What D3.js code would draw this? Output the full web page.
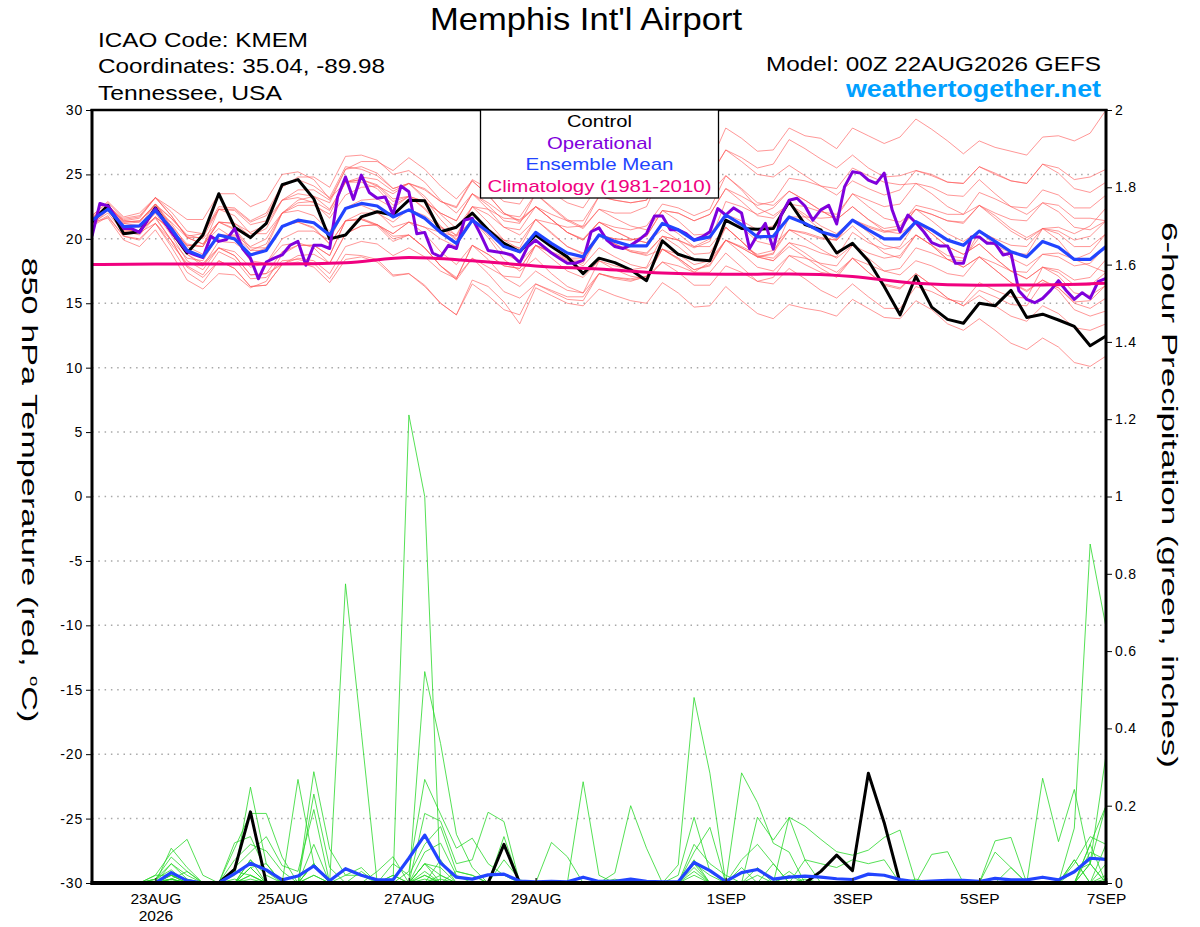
<!DOCTYPE html>
<html>
<head>
<meta charset="utf-8">
<script src="https://cdn.jsdelivr.net/npm/d3@7"></script>
<style>
body { margin: 0; background: #fff; }
svg { display: block; font-family: "Liberation Sans", Arial, Helvetica, sans-serif; }
</style>
</head>
<body>
<div id="svg"></div>
<script>
///////////////Data

// forecast run start, 6-hourly ensemble steps, 3-hourly operational steps
var runStart = "2026-08-22T00:00:00Z";

var tempTicks = [-30, -25, -20, -15, -10, -5, 0, 5, 10, 15, 20, 25, 30];
var precipTicks = [0, 0.2, 0.4, 0.6, 0.8, 1, 1.2, 1.4, 1.6, 1.8, 2];
var dateTicks = ["2026-08-23", "2026-08-25", "2026-08-27", "2026-08-29", "2026-09-01", "2026-09-03", "2026-09-05", "2026-09-07"];
var dateTickLabels = ["23AUG", "25AUG", "27AUG", "29AUG", "1SEP", "3SEP", "5SEP", "7SEP"];
var yearLabel = "2026";

var legendNames = ["Control", "Operational", "Ensemble Mean", "Climatology (1981-2010)"];

// 850 hPa temperature, control run (6-hourly, 65 steps)
var controlTemp = [21.3, 22.6, 20.4, 20.55, 22.4, 20.6, 18.9, 20.3, 23.5, 20.9, 20.1, 21.2, 24.2, 24.6, 23.1, 20.0, 20.3, 21.7, 22.1, 21.85,
    23.0, 22.95, 20.55, 20.9, 22.0, 20.7, 19.65, 19.0, 20.3, 19.4, 18.6, 17.3, 18.5, 18.15, 17.6, 16.75, 19.85, 18.8, 18.4, 18.3,
    21.45, 20.8, 20.75, 20.8, 22.9, 21.1, 20.7, 18.9, 19.65, 18.3, 16.3, 14.1, 17.1, 14.7, 13.75, 13.45, 15.0, 14.8, 16.0, 13.9,
    14.15, 13.7, 13.2, 11.7, 12.45];

// ensemble mean (6-hourly)
var meanTemp = [21.45, 22.3, 20.95, 21.0, 22.2, 20.8, 19.1, 18.6, 20.3, 20.0, 18.75, 19.1, 20.95, 21.45, 21.25, 20.3, 22.35, 22.75, 22.55, 21.7,
    22.25, 21.6, 20.5, 19.65, 21.45, 20.55, 19.4, 19.0, 20.5, 19.65, 18.9, 18.6, 20.3, 19.8, 19.45, 19.45, 21.2, 20.7, 19.9, 20.15,
    21.85, 21.1, 20.15, 20.2, 21.7, 21.2, 20.55, 20.2, 21.45, 20.7, 20.0, 20.0, 21.33, 20.7, 19.9, 19.5, 20.6, 19.8, 19.0, 18.6,
    19.8, 19.35, 18.4, 18.4, 19.4];

// operational run (3-hourly, 129 steps)
var operTemp = [20.2, 22.75, 22.55, 21.7, 20.8, 20.8, 20.5, 21.45, 22.35, 21.45, 20.55, 19.8, 19.0, 18.75, 18.55, 20.2, 19.8, 19.95, 20.8, 19.25,
    18.5, 16.9, 18.2, 18.5, 18.75, 19.5, 19.8, 17.95, 19.5, 19.5, 19.25, 23.25, 24.8, 23.06, 24.95, 23.6, 23.15, 23.25, 21.9, 24.1,
    23.65, 20.4, 20.5, 18.9, 18.6, 19.5, 19.25, 21.45, 21.6, 20.4, 19.1, 19.0, 18.9, 18.75, 18.15, 19.4, 19.9, 19.4, 18.9, 18.5,
    18.1, 18.1, 18.35, 20.55, 20.85, 19.9, 19.4, 19.25, 19.5, 19.9, 20.4, 21.77, 21.77, 20.7, 20.7, 20.4, 19.9, 20.15, 20.55, 22.35,
    21.85, 22.4, 22.0, 19.25, 20.3, 21.2, 19.2, 21.85, 23.0, 23.15, 22.55, 21.45, 22.25, 22.6, 21.15, 24.05, 25.2, 25.1, 24.55, 24.3,
    25.1, 22.25, 20.55, 21.85, 21.25, 20.55, 19.7, 19.45, 19.45, 18.1, 18.1, 20.15, 20.15, 19.65, 19.65, 18.75, 18.9, 15.97, 15.3, 15.04,
    15.38, 16.0, 16.75, 15.97, 15.3, 15.82, 15.38, 16.67, 16.93];

// climatology (daily at 00Z, 17 days)
var climoTemp = [18.0, 18.05, 18.05, 18.05, 18.15, 18.55, 18.3, 17.9, 17.65, 17.35, 17.25, 17.27, 17.08, 16.55, 16.4, 16.42, 16.55];

// perturbed members, 850 hPa temperature (6-hourly)
var redMember01 = [21.5, 22.5, 21.3, 21.4, 22.6, 21.6, 20.2, 20.4, 22.5, 22.4, 21.4, 22.0, 24.2, 24.6, 24.1, 23.2, 25.6, 25.4, 24.9, 23.9, 24.3, 23.9, 22.9, 22.5, 24.6, 23.9, 22.9, 22.7, 24.6, 23.6, 22.8, 22.4, 24.2, 24.0, 23.8, 24.2, 26.3, 25.9, 25.3, 25.8, 28.6, 27.8, 26.8, 26.9, 28.6, 28.0, 27.8, 27.0, 28.6, 28.0, 27.4, 27.9, 29.3, 28.5, 27.6, 26.6, 27.6, 27.1, 26.8, 26.5, 27.9, 28.0, 27.6, 28.2, 30.0];
var redMember02 = [21.2, 22.0, 20.5, 20.6, 21.6, 19.9, 17.9, 17.2, 19.0, 18.4, 16.9, 17.0, 18.3, 18.4, 18.1, 16.9, 18.8, 18.7, 18.4, 17.2, 17.3, 16.4, 15.0, 14.1, 16.8, 16.3, 15.1, 13.4, 16.2, 15.6, 15.0, 14.8, 16.1, 15.6, 15.2, 15.0, 16.6, 15.8, 14.7, 14.8, 16.3, 15.2, 14.2, 13.8, 14.9, 14.6, 14.4, 14.0, 15.3, 14.6, 13.9, 13.8, 15.2, 14.5, 13.4, 12.9, 13.8, 12.9, 11.9, 11.4, 12.3, 11.6, 10.4, 10.1, 10.9];
var redMember03 = [21.8, 22.9, 21.7, 22.0, 23.2, 22.4, 21.5, 21.5, 23.5, 23.5, 22.5, 23.0, 25.0, 25.2, 24.6, 23.1, 24.4, 24.4, 23.9, 22.6, 23.3, 22.4, 21.0, 20.0, 21.5, 20.7, 19.6, 19.3, 21.5, 21.2, 20.9, 21.0, 23.3, 23.0, 22.8, 23.0, 25.2, 25.0, 24.3, 24.8, 26.9, 26.0, 25.0, 24.8, 25.7, 24.9, 24.1, 23.4, 24.5, 23.9, 23.4, 23.8, 25.3, 25.0, 24.4, 24.3, 25.6, 25.0, 24.5, 24.3, 25.8, 25.1, 23.9, 23.6, 24.4];
var redMember04 = [21.1, 21.8, 20.2, 20.0, 21.2, 19.4, 17.4, 16.6, 18.3, 17.7, 16.3, 16.4, 18.0, 18.2, 17.8, 16.6, 18.4, 18.6, 18.2, 17.1, 17.3, 16.3, 15.0, 14.1, 16.5, 15.6, 14.5, 14.1, 16.5, 16.0, 15.5, 15.5, 17.3, 17.0, 16.9, 17.1, 19.2, 18.8, 18.0, 18.3, 20.9, 19.8, 18.6, 18.3, 19.4, 18.6, 17.7, 17.0, 18.5, 17.4, 16.5, 16.2, 17.3, 16.4, 15.4, 14.8, 16.0, 15.5, 14.9, 14.8, 16.6, 16.2, 15.0, 14.6, 15.4];
var redMember05 = [21.6, 22.6, 21.3, 21.4, 22.7, 21.6, 20.3, 20.0, 21.3, 21.2, 20.5, 21.1, 23.0, 23.8, 23.8, 23.0, 25.4, 25.6, 25.1, 23.9, 24.3, 23.3, 21.9, 20.8, 22.5, 21.3, 19.9, 19.2, 20.5, 19.5, 18.5, 17.9, 19.3, 18.6, 18.0, 17.7, 19.2, 18.5, 17.6, 18.0, 19.9, 19.3, 18.6, 18.8, 21.7, 21.7, 21.6, 21.7, 23.5, 23.0, 22.5, 22.7, 24.3, 24.0, 23.4, 23.3, 24.6, 23.5, 22.5, 21.9, 22.8, 22.1, 20.9, 20.7, 21.4];
var redMember06 = [21.2, 22.3, 20.8, 20.6, 22.0, 20.3, 18.3, 17.6, 19.3, 19.0, 17.8, 18.1, 20.0, 20.6, 20.6, 19.9, 22.4, 23.0, 23.1, 22.4, 23.3, 22.9, 22.0, 21.4, 23.5, 22.8, 21.9, 21.7, 23.5, 22.4, 21.4, 20.8, 22.3, 21.6, 21.0, 20.7, 22.2, 21.4, 20.3, 20.4, 21.9, 20.9, 19.8, 19.5, 20.7, 20.0, 19.2, 18.5, 19.5, 18.5, 17.5, 17.2, 18.3, 17.9, 17.3, 17.1, 18.6, 18.1, 17.5, 17.4, 18.8, 18.6, 17.9, 18.1, 19.4];
var redMember07 = [21.8, 22.8, 21.6, 21.8, 23.2, 22.1, 20.6, 20.4, 22.3, 21.8, 20.4, 20.4, 22.0, 22.2, 21.8, 20.6, 22.4, 22.6, 22.1, 20.9, 21.3, 20.4, 19.0, 18.0, 19.5, 18.4, 17.0, 16.3, 17.5, 16.7, 16.0, 15.8, 18.3, 17.9, 17.6, 17.8, 20.2, 19.9, 19.3, 19.8, 22.9, 22.5, 21.9, 22.4, 23.7, 23.0, 22.2, 21.5, 22.5, 21.5, 20.6, 20.4, 21.3, 20.4, 19.4, 18.8, 19.6, 18.5, 17.5, 16.9, 17.8, 17.1, 15.8, 15.6, 16.4];
var redMember08 = [21.0, 21.7, 20.2, 19.9, 21.2, 19.9, 18.5, 18.3, 20.3, 20.3, 19.4, 20.0, 22.0, 22.8, 22.9, 22.2, 24.4, 24.6, 24.2, 23.1, 23.3, 22.3, 20.9, 19.9, 21.5, 20.3, 18.9, 18.2, 19.5, 18.9, 18.4, 18.3, 20.3, 20.0, 19.9, 20.2, 22.2, 22.0, 21.4, 21.9, 23.9, 23.3, 22.6, 22.9, 24.7, 24.5, 24.1, 23.9, 25.5, 24.9, 24.4, 24.2, 24.3, 23.5, 22.5, 21.9, 22.6, 21.6, 20.6, 19.9, 20.8, 20.6, 19.9, 20.2, 21.4];
var redMember09 = [21.4, 22.4, 21.2, 21.3, 22.7, 21.0, 18.8, 17.9, 19.3, 18.7, 17.2, 17.3, 19.0, 19.5, 19.5, 18.7, 21.4, 22.0, 22.0, 21.3, 22.3, 21.8, 20.9, 20.3, 22.5, 21.9, 20.9, 20.7, 22.5, 21.5, 20.5, 20.0, 21.3, 20.6, 20.0, 19.7, 21.2, 20.4, 19.4, 19.4, 20.9, 19.8, 18.6, 18.3, 19.7, 18.9, 18.0, 17.4, 18.5, 17.4, 16.4, 16.1, 17.3, 16.4, 15.4, 14.8, 15.6, 14.8, 14.0, 13.6, 14.8, 14.2, 13.1, 12.9, 13.4];
var redMember10 = [21.5, 22.2, 20.7, 20.6, 21.7, 20.7, 19.5, 19.4, 22.3, 22.2, 21.1, 21.4, 23.0, 23.2, 22.8, 21.6, 23.4, 24.0, 24.1, 23.5, 24.3, 23.8, 22.9, 22.4, 24.5, 23.4, 22.0, 21.4, 22.5, 21.5, 20.5, 19.9, 21.3, 20.9, 20.7, 21.0, 22.7, 22.4, 21.8, 22.3, 24.9, 23.8, 22.4, 21.8, 22.7, 21.7, 20.7, 19.9, 21.0, 19.9, 18.9, 18.5, 20.3, 19.5, 18.7, 18.5, 20.1, 19.5, 18.9, 18.8, 20.8, 20.4, 19.4, 19.4, 20.4];
var redMember11 = [21.3, 21.6, 19.9, 19.4, 20.7, 18.9, 16.8, 16.1, 17.3, 17.2, 16.2, 16.7, 18.8, 19.5, 19.5, 18.7, 21.4, 21.5, 21.0, 19.8, 20.3, 19.3, 17.9, 16.8, 18.5, 17.3, 15.9, 15.4, 16.5, 15.9, 15.3, 15.2, 17.3, 17.0, 16.8, 17.0, 19.2, 18.4, 17.4, 17.4, 18.9, 17.8, 16.7, 16.5, 17.7, 16.9, 16.0, 15.4, 16.5, 15.5, 14.6, 14.6, 16.3, 15.9, 15.3, 15.1, 16.6, 16.0, 15.5, 15.4, 17.8, 17.6, 16.8, 17.0, 18.4];
var redMember12 = [21.7, 22.6, 21.4, 21.3, 22.7, 21.2, 19.4, 18.8, 20.3, 20.2, 19.1, 19.6, 22.0, 23.0, 23.3, 22.8, 25.4, 26.0, 26.0, 25.3, 26.3, 25.4, 24.1, 23.1, 24.5, 23.4, 22.0, 21.3, 22.5, 21.9, 21.4, 21.4, 23.3, 23.0, 22.8, 23.0, 25.2, 24.5, 23.4, 23.5, 24.9, 23.9, 22.8, 22.6, 23.7, 23.0, 22.2, 21.5, 22.5, 21.5, 20.8, 21.0, 22.6, 22.3, 21.9, 21.9, 23.6, 23.1, 22.5, 22.4, 23.8, 23.4, 22.4, 22.4, 23.4];
var redMember13 = [21.1, 22.2, 20.9, 21.0, 22.2, 21.0, 19.6, 19.4, 21.3, 20.7, 19.1, 19.1, 21.0, 21.3, 20.9, 19.6, 21.4, 21.5, 21.1, 20.0, 20.3, 19.3, 17.9, 16.9, 19.5, 18.8, 17.9, 17.7, 19.5, 19.0, 18.5, 18.5, 20.3, 20.0, 19.9, 20.2, 22.2, 22.0, 21.4, 21.9, 23.9, 22.9, 21.8, 21.6, 22.7, 21.9, 21.0, 20.4, 21.5, 20.5, 19.5, 19.2, 20.3, 19.5, 18.4, 17.8, 18.6, 17.6, 16.6, 16.0, 16.8, 16.2, 15.1, 15.2, 16.4];
var redMember14 = [21.5, 22.5, 21.4, 21.6, 23.2, 21.8, 20.1, 19.6, 21.3, 21.2, 20.2, 20.8, 23.0, 23.5, 23.3, 22.3, 24.4, 24.8, 24.6, 23.7, 24.3, 23.1, 21.5, 20.2, 21.5, 20.1, 18.4, 17.5, 18.5, 17.3, 16.3, 15.8, 17.3, 16.9, 16.7, 17.1, 18.2, 17.9, 17.4, 18.2, 19.9, 19.3, 18.6, 18.9, 20.7, 20.5, 20.1, 19.9, 21.5, 20.9, 20.5, 20.7, 22.3, 21.9, 21.4, 21.2, 22.6, 21.8, 20.8, 20.1, 20.8, 19.9, 18.4, 17.9, 17.4];
var redMember15 = [21.4, 22.2, 20.6, 20.3, 21.7, 19.9, 17.8, 17.0, 18.3, 17.7, 16.3, 16.4, 18.0, 18.7, 18.8, 18.1, 20.4, 21.0, 21.1, 20.4, 21.3, 20.9, 20.0, 19.4, 21.5, 20.8, 19.9, 19.7, 21.5, 20.5, 19.4, 18.9, 20.3, 19.6, 19.1, 18.9, 20.2, 19.9, 19.4, 20.0, 21.9, 21.4, 20.7, 21.0, 22.7, 22.5, 22.1, 21.9, 23.5, 22.5, 21.6, 21.3, 22.3, 21.4, 20.4, 19.8, 20.6, 19.5, 18.5, 17.9, 18.8, 18.9, 18.4, 18.9, 20.4];
var redMember16 = [21.6, 22.4, 21.0, 20.9, 22.2, 21.3, 20.1, 20.1, 22.3, 22.3, 21.3, 21.8, 24.0, 24.8, 24.8, 24.0, 26.4, 26.5, 26.1, 25.0, 25.3, 24.4, 23.0, 22.0, 23.5, 22.3, 20.9, 20.3, 21.5, 20.4, 19.4, 18.8, 20.3, 19.6, 19.0, 18.8, 20.2, 19.4, 18.4, 18.4, 19.9, 18.9, 17.8, 17.5, 18.7, 18.0, 17.4, 17.2, 18.5, 18.0, 17.5, 17.7, 19.3, 18.9, 18.4, 18.3, 20.6, 20.0, 19.5, 19.4, 20.8, 20.9, 20.4, 21.0, 22.4];
var redMember17 = [21.2, 22.4, 21.2, 21.0, 22.7, 20.9, 18.8, 18.1, 19.3, 18.7, 17.2, 17.3, 18.0, 18.5, 18.3, 17.3, 19.4, 19.8, 19.6, 18.7, 19.3, 18.6, 17.5, 16.9, 19.5, 18.8, 17.9, 17.7, 19.5, 18.5, 17.5, 17.0, 18.3, 17.6, 17.1, 16.9, 18.2, 17.4, 16.4, 16.4, 17.9, 17.4, 16.7, 17.0, 18.7, 18.5, 18.1, 17.9, 19.5, 18.9, 18.5, 18.7, 20.3, 19.5, 18.4, 17.8, 18.6, 17.6, 16.6, 15.9, 16.8, 16.0, 14.5, 14.0, 14.4];
var redMember18 = [21.7, 22.2, 20.7, 20.6, 21.7, 20.7, 19.5, 19.4, 21.3, 20.8, 19.3, 19.3, 22.0, 22.6, 22.6, 21.9, 24.4, 24.6, 24.1, 22.9, 23.3, 22.9, 22.0, 21.4, 23.5, 22.6, 21.4, 21.2, 23.5, 22.5, 21.5, 20.9, 22.3, 22.0, 22.0, 22.5, 25.2, 25.0, 24.4, 24.9, 26.9, 26.3, 25.5, 25.8, 27.7, 27.0, 26.2, 25.5, 26.5, 25.5, 24.8, 24.9, 25.3, 24.9, 24.4, 24.3, 25.6, 25.1, 24.5, 24.3, 25.8, 25.5, 24.6, 24.8, 25.4];
var redMember19 = [21.3, 22.3, 21.0, 20.5, 21.2, 19.6, 18.1, 17.9, 19.8, 19.7, 18.8, 19.3, 21.0, 21.3, 20.8, 19.6, 21.4, 21.6, 21.1, 20.2, 20.3, 19.3, 17.9, 17.0, 18.5, 17.8, 17.1, 17.0, 19.5, 18.9, 18.3, 18.1, 20.3, 19.6, 19.0, 18.7, 19.2, 18.5, 17.6, 17.9, 19.9, 19.4, 18.8, 19.1, 20.7, 20.4, 20.0, 19.9, 21.5, 21.0, 20.6, 20.8, 22.3, 21.9, 21.4, 21.3, 22.6, 22.0, 21.5, 21.4, 22.8, 22.6, 21.6, 21.6, 21.4];
var redMember20 = [21.4, 22.6, 21.5, 21.7, 23.2, 21.8, 20.1, 19.6, 20.8, 20.0, 18.3, 18.1, 19.5, 19.7, 19.3, 18.1, 20.4, 21.0, 21.1, 20.4, 21.3, 20.9, 20.5, 20.2, 22.5, 22.3, 21.6, 21.5, 22.5, 21.5, 20.5, 19.9, 21.3, 20.6, 20.0, 19.7, 20.7, 19.9, 18.8, 18.9, 20.9, 19.8, 18.7, 18.5, 19.7, 19.4, 18.9, 18.6, 20.5, 19.7, 19.2, 19.4, 21.3, 20.4, 19.4, 18.8, 19.6, 18.5, 17.5, 16.9, 17.8, 17.4, 16.4, 16.4, 17.4];

// 6-hour precipitation, inches (steps 1..64, first step has no accumulation)
var controlPrecip = [0, 0, 0, 0, 0, 0, 0, 0, 0.035, 0.184, 0, 0, 0, 0, 0, 0, 0, 0, 0, 0, 0, 0, 0, 0, 0, 0.1, 0, 0, 0, 0, 0, 0,
    0, 0, 0, 0, 0, 0, 0, 0, 0, 0, 0, 0, 0, 0.03, 0.072, 0.032, 0.284, 0.156, 0, 0, 0, 0, 0, 0, 0, 0, 0, 0, 0, 0, 0, 0];
var meanPrecip = [0, 0, 0, 0, 0.027, 0.006, 0, 0, 0.024, 0.051, 0.034, 0.008, 0.018, 0.044, 0.006, 0.037, 0.02, 0.008, 0.008, 0.064, 0.124, 0.052, 0.015, 0.01,
    0.021, 0.023, 0.005, 0.003, 0.004, 0.003, 0.015, 0.004, 0.004, 0.01, 0.004, 0.003, 0.003, 0.053, 0.032, 0.004, 0.027, 0.035, 0.01, 0.015, 0.018, 0.015, 0.011, 0.009,
    0.023, 0.02, 0.009, 0.003, 0.005, 0.007, 0.007, 0.004, 0.012, 0.008, 0.008, 0.015, 0.008, 0.029, 0.064, 0.061];

var greenMember01 = [0, 0, 0, 0.01, 0.05, 0.02, 0, 0, 0, 0.06, 0.02, 0, 0, 0.05, 0, 0.774, 0.39, 0, 0.02, 0, 0.05, 0.02, 0, 0, 0, 0, 0, 0, 0, 0, 0, 0, 0, 0, 0, 0, 0, 0.1, 0.05, 0.02, 0, 0.02, 0, 0, 0, 0, 0, 0, 0, 0, 0, 0, 0, 0, 0, 0, 0, 0, 0, 0, 0, 0.05, 0.12, 0.1];
var greenMember02 = [0, 0, 0, 0, 0.09, 0.04, 0, 0, 0.02, 0.248, 0.05, 0, 0, 0.05, 0, 0, 0, 0, 0, 1.211, 1.0, 0, 0, 0, 0, 0, 0, 0, 0, 0, 0, 0, 0, 0, 0, 0, 0.02, 0.17, 0.03, 0, 0, 0, 0, 0.03, 0, 0, 0, 0, 0, 0, 0, 0, 0, 0, 0, 0, 0, 0, 0, 0, 0, 0, 0.1, 0.2];
var greenMember03 = [0, 0, 0, 0.02, 0.078, 0.113, 0.02, 0, 0.104, 0.12, 0.03, 0, 0.268, 0.05, 0, 0, 0, 0, 0.02, 0, 0.547, 0.361, 0.126, 0.04, 0, 0, 0, 0, 0, 0, 0, 0, 0, 0, 0, 0, 0, 0.05, 0.02, 0, 0.06, 0.1, 0.05, 0, 0, 0, 0, 0, 0, 0, 0, 0, 0, 0, 0, 0, 0.08, 0.04, 0, 0, 0, 0.06, 0, 0];
var greenMember04 = [0, 0, 0, 0.01, 0.067, 0.03, 0, 0, 0.09, 0.18, 0.18, 0.067, 0, 0.288, 0.088, 0.02, 0.04, 0, 0, 0.03, 0.268, 0.178, 0.09, 0.116, 0.05, 0.02, 0, 0, 0, 0, 0, 0, 0, 0, 0, 0, 0, 0, 0, 0, 0, 0, 0, 0.17, 0.147, 0.113, 0.081, 0.072, 0.085, 0.118, 0.137, 0, 0, 0, 0, 0, 0, 0, 0, 0, 0, 0, 0, 0];
var greenMember05 = [0, 0, 0, 0, 0.05, 0.01, 0, 0, 0.06, 0.1, 0.083, 0.03, 0, 0.23, 0.04, 0, 0, 0.03, 0.068, 0, 0.18, 0.16, 0.05, 0.06, 0.183, 0.159, 0, 0, 0, 0, 0.262, 0.02, 0, 0, 0, 0, 0, 0, 0, 0, 0, 0, 0, 0, 0, 0, 0, 0, 0, 0, 0, 0, 0, 0, 0, 0, 0, 0, 0, 0.271, 0.107, 0.242, 0.05, 0.331];
var greenMember06 = [0, 0, 0, 0.01, 0.034, 0, 0, 0, 0.04, 0.08, 0.12, 0.045, 0.03, 0.19, 0, 0.02, 0.02, 0, 0.05, 0.02, 0.1, 0.146, 0.03, 0.02, 0, 0.12, 0, 0, 0, 0, 0, 0, 0.026, 0.2, 0.09, 0, 0, 0, 0, 0, 0.285, 0.208, 0.103, 0.08, 0, 0, 0, 0, 0, 0, 0, 0, 0.074, 0.081, 0, 0, 0, 0, 0, 0, 0, 0.142, 0.877, 0.662];
var greenMember07 = [0, 0, 0, 0, 0.02, 0, 0, 0, 0, 0.04, 0.05, 0, 0, 0.1, 0, 0, 0, 0, 0, 0, 0.08, 0.103, 0.02, 0, 0, 0.06, 0.008, 0, 0.105, 0.068, 0, 0, 0, 0, 0, 0, 0.047, 0.48, 0.284, 0, 0, 0.17, 0.111, 0.169, 0.06, 0, 0, 0, 0, 0, 0, 0, 0, 0, 0, 0, 0.109, 0.118, 0, 0, 0, 0, 0, 0];
var greenMember08 = [0, 0, 0, 0.02, 0.02, 0.01, 0, 0, 0, 0.06, 0, 0, 0, 0.05, 0, 0, 0, 0, 0, 0, 0, 0.06, 0, 0, 0, 0, 0, 0, 0, 0, 0, 0, 0, 0, 0, 0, 0, 0.08, 0.144, 0, 0.04, 0, 0, 0, 0.06, 0.05, 0.04, 0.06, 0.05, 0.06, 0, 0, 0, 0, 0, 0, 0, 0, 0, 0, 0, 0, 0.05, 0.2];
var greenMember09 = [0, 0, 0, 0.005, 0.01, 0, 0, 0, 0, 0.02, 0, 0, 0, 0, 0, 0, 0, 0, 0, 0, 0.05, 0, 0, 0, 0, 0, 0, 0, 0, 0, 0, 0, 0, 0, 0, 0, 0, 0.06, 0, 0, 0, 0, 0, 0, 0, 0, 0, 0, 0, 0, 0, 0, 0, 0, 0, 0, 0, 0, 0, 0, 0, 0, 0.1, 0];
var greenMember10 = [0, 0, 0, 0, 0.01, 0, 0, 0, 0, 0, 0, 0, 0, 0, 0, 0, 0, 0, 0, 0, 0, 0.02, 0, 0, 0, 0, 0, 0, 0, 0, 0, 0, 0, 0, 0, 0, 0, 0.05, 0, 0, 0, 0, 0, 0.02, 0, 0, 0, 0, 0, 0, 0, 0, 0, 0, 0, 0, 0, 0, 0, 0, 0, 0, 0, 0.02];
var greenMember11 = [0, 0, 0, 0, 0.02, 0, 0, 0, 0, 0.02, 0, 0, 0, 0.02, 0, 0, 0, 0, 0, 0, 0.02, 0, 0, 0, 0, 0, 0, 0, 0, 0, 0, 0, 0.01, 0, 0, 0, 0, 0, 0, 0, 0, 0, 0, 0, 0, 0, 0, 0, 0, 0, 0, 0, 0, 0, 0, 0, 0, 0.04, 0, 0, 0, 0.06, 0, 0];
var greenMember12 = [0, 0, 0, 0, 0.02, 0, 0, 0, 0.01, 0, 0, 0, 0, 0, 0, 0, 0, 0, 0, 0, 0, 0, 0.03, 0.02, 0, 0, 0, 0, 0, 0, 0, 0, 0, 0, 0, 0, 0, 0.04, 0, 0, 0, 0, 0.05, 0, 0, 0, 0, 0, 0, 0, 0, 0, 0, 0, 0, 0, 0, 0, 0, 0, 0, 0, 0.05, 0];
var greenMember13 = [0, 0, 0, 0, 0.01, 0.03, 0, 0, 0, 0.04, 0, 0, 0, 0, 0, 0, 0.03, 0, 0, 0, 0.03, 0, 0, 0, 0, 0, 0, 0, 0, 0, 0, 0, 0, 0, 0, 0, 0, 0, 0, 0, 0, 0, 0, 0, 0, 0, 0, 0, 0, 0, 0, 0.01, 0, 0, 0, 0, 0, 0, 0, 0, 0, 0, 0, 0.1];
var greenMember14 = [0, 0, 0, 0, 0.01, 0, 0, 0, 0, 0, 0, 0, 0, 0, 0, 0, 0, 0, 0, 0, 0.01, 0, 0, 0, 0, 0, 0, 0, 0, 0, 0, 0, 0, 0, 0, 0, 0, 0.02, 0, 0, 0, 0, 0, 0, 0, 0, 0, 0, 0, 0, 0, 0, 0, 0, 0, 0, 0, 0, 0, 0, 0, 0, 0, 0];
var greenMember15 = [0, 0, 0, 0, 0, 0, 0, 0, 0, 0.04, 0, 0, 0, 0.02, 0, 0, 0, 0, 0, 0, 0.05, 0.04, 0, 0, 0, 0, 0, 0, 0, 0, 0, 0, 0, 0, 0, 0, 0, 0, 0, 0, 0, 0.04, 0, 0, 0, 0, 0, 0, 0, 0, 0, 0, 0, 0, 0, 0, 0, 0, 0, 0, 0, 0, 0, 0.05];
var greenMember16 = [0, 0, 0, 0, 0.01, 0, 0, 0, 0, 0.01, 0, 0, 0, 0, 0, 0, 0, 0, 0, 0, 0.02, 0, 0, 0, 0, 0, 0, 0, 0, 0, 0, 0, 0, 0, 0, 0, 0, 0.03, 0, 0, 0, 0, 0, 0, 0, 0, 0, 0, 0, 0, 0, 0, 0, 0, 0, 0, 0, 0, 0, 0, 0, 0.03, 0.05, 0];
var greenMember17 = [0, 0, 0, 0, 0, 0, 0, 0, 0.03, 0.02, 0, 0, 0, 0, 0, 0, 0, 0, 0, 0, 0, 0, 0, 0, 0, 0, 0, 0, 0, 0, 0, 0, 0, 0, 0, 0, 0, 0, 0, 0, 0, 0, 0, 0, 0, 0, 0, 0, 0, 0, 0, 0, 0, 0, 0, 0, 0, 0, 0, 0, 0, 0, 0.08, 0.06];
var greenMember18 = [0, 0, 0, 0, 0, 0, 0, 0, 0, 0, 0, 0, 0, 0, 0, 0, 0, 0, 0, 0, 0, 0.01, 0, 0, 0, 0, 0, 0, 0, 0, 0, 0, 0, 0, 0, 0, 0, 0, 0, 0, 0, 0, 0, 0, 0.01, 0, 0, 0, 0, 0, 0, 0, 0, 0, 0, 0, 0, 0, 0, 0, 0, 0, 0, 0];
var greenMember19 = [0, 0, 0, 0, 0.005, 0, 0, 0, 0, 0, 0, 0, 0, 0, 0, 0, 0, 0, 0, 0, 0, 0, 0, 0, 0, 0, 0, 0, 0, 0, 0, 0, 0, 0, 0, 0, 0, 0, 0, 0, 0, 0, 0, 0, 0, 0, 0, 0, 0, 0, 0, 0, 0, 0, 0, 0, 0, 0, 0, 0, 0, 0, 0, 0];
var greenMember20 = [0, 0, 0, 0, 0, 0, 0, 0, 0, 0, 0, 0, 0, 0, 0, 0, 0, 0, 0, 0, 0, 0, 0, 0, 0, 0, 0, 0, 0, 0, 0, 0, 0, 0, 0, 0, 0, 0, 0, 0, 0, 0, 0, 0, 0, 0, 0, 0, 0, 0, 0, 0, 0, 0, 0, 0, 0, 0, 0, 0, 0, 0, 0, 0.01];

var tempMembers = [redMember01, redMember02, redMember03, redMember04, redMember05, redMember06, redMember07, redMember08, redMember09, redMember10,
    redMember11, redMember12, redMember13, redMember14, redMember15, redMember16, redMember17, redMember18, redMember19, redMember20];
var precipMembers = [greenMember01, greenMember02, greenMember03, greenMember04, greenMember05, greenMember06, greenMember07, greenMember08, greenMember09, greenMember10,
    greenMember11, greenMember12, greenMember13, greenMember14, greenMember15, greenMember16, greenMember17, greenMember18, greenMember19, greenMember20];

///////////////Layout

var svgWidth = 1200, svgHeight = 927;
var plotLeft = 92, plotRight = 1106, plotTop = 110, plotBottom = 883;
var memberTempColour = "#ff5a5a", memberPrecipColour = "#2ad82a";
var operColour = "#7f00dc", meanColour = "#2244ff", climoColour = "#f0007f";
var gridColour = "#a8a8a8";

var startMs = new Date(runStart).getTime();
function stepTime(i, hours) { return new Date(startMs + i * hours * 3600000); }

var divDOM = d3.select("body").select("div#svg");

function renderGraph() {
    divDOM.selectAll("svg").remove();
    var svgGraph = divDOM.append("svg")
        .attr("width", svgWidth).attr("height", svgHeight)
        .attr("viewBox", "0 0 " + svgWidth + " " + svgHeight);

    var x = d3.scaleUtc()
        .domain([stepTime(0, 6), stepTime(64, 6)])
        .range([plotLeft, plotRight]);
    var yTemp = d3.scaleLinear().domain([-30, 30]).range([plotBottom, plotTop]);
    var yPrecip = d3.scaleLinear().domain([0, 2]).range([plotBottom, plotTop]);

    svgGraph.append("defs").append("clipPath").attr("id", "plotClip")
        .append("rect")
        .attr("x", plotLeft).attr("y", plotTop)
        .attr("width", plotRight - plotLeft).attr("height", plotBottom - plotTop);

    //dotted helper lines
    svgGraph.append("g").selectAll("line")
        .data(tempTicks.slice(1, -1))
        .enter().append("line")
        .attr("x1", plotLeft).attr("x2", plotRight)
        .attr("y1", function(d) { return yTemp(d); })
        .attr("y2", function(d) { return yTemp(d); })
        .style("stroke", gridColour).style("stroke-width", 1.5)
        .style("stroke-dasharray", "1.5,4.8");

    var plotArea = svgGraph.append("g").attr("id", "plotArea").attr("clip-path", "url(#plotClip)");

    var tempLine = d3.line()
        .x(function(d, i) { return x(stepTime(i, 6)); })
        .y(function(d) { return yTemp(d); });
    var operLine = d3.line()
        .x(function(d, i) { return x(stepTime(i, 3)); })
        .y(function(d) { return yTemp(d); });
    var climoLine = d3.line()
        .x(function(d, i) { return x(stepTime(i, 24)); })
        .y(function(d) { return yTemp(d); })
        .curve(d3.curveMonotoneX);
    var precipLine = d3.line()
        .x(function(d, i) { return x(stepTime(i + 1, 6)); })
        .y(function(d) { return yPrecip(d); });

    //ensemble precipitation
    plotArea.append("g").selectAll("path")
        .data(precipMembers)
        .enter().append("path")
        .attr("d", precipLine)
        .attr("fill", "none")
        .style("stroke", memberPrecipColour).style("stroke-width", 0.8);

    //ensemble temperature
    plotArea.append("g").selectAll("path")
        .data(tempMembers)
        .enter().append("path")
        .attr("d", tempLine)
        .attr("fill", "none")
        .style("stroke", memberTempColour).style("stroke-width", 0.7).style("opacity", 0.9);

    //control
    plotArea.append("path").datum(controlTemp)
        .attr("d", tempLine).attr("fill", "none")
        .style("stroke", "black").style("stroke-width", 3).style("stroke-linejoin", "round");
    plotArea.append("path").datum(controlPrecip)
        .attr("d", precipLine).attr("fill", "none")
        .style("stroke", "black").style("stroke-width", 3).style("stroke-linejoin", "round");

    //operational
    plotArea.append("path").datum(operTemp)
        .attr("d", operLine).attr("fill", "none")
        .style("stroke", operColour).style("stroke-width", 3).style("stroke-linejoin", "round");

    //ensemble mean
    plotArea.append("path").datum(meanTemp)
        .attr("d", tempLine).attr("fill", "none")
        .style("stroke", meanColour).style("stroke-width", 3.2).style("stroke-linejoin", "round");
    plotArea.append("path").datum(meanPrecip)
        .attr("d", precipLine).attr("fill", "none")
        .style("stroke", meanColour).style("stroke-width", 3.2).style("stroke-linejoin", "round");

    //climatology
    plotArea.append("path").datum(climoTemp)
        .attr("d", climoLine).attr("fill", "none")
        .style("stroke", climoColour).style("stroke-width", 3);

    //y-axis left
    var leftAxis = svgGraph.append("g")
        .attr("transform", "translate(" + plotLeft + ",0)")
        .call(d3.axisLeft(yTemp).tickValues(tempTicks).tickSize(6).tickPadding(3).tickFormat(function(d) { return String(d); }));
    leftAxis.select(".domain").remove();
    leftAxis.selectAll("text").attr("font-family", "Liberation Sans, Arial, sans-serif")
        .attr("font-size", 14).style("letter-spacing", "0.8px").attr("fill", "black");

    //y-axis right
    var rightAxis = svgGraph.append("g")
        .attr("transform", "translate(" + plotRight + ",0)")
        .call(d3.axisRight(yPrecip).tickValues(precipTicks).tickSize(6).tickPadding(3).tickFormat(function(d) { return String(d); }));
    rightAxis.select(".domain").remove();
    rightAxis.selectAll("text").attr("font-family", "Liberation Sans, Arial, sans-serif")
        .attr("font-size", 14).style("letter-spacing", "0.8px").attr("fill", "black");

    //x-axis
    var tickDates = dateTicks.map(function(s) { return new Date(s + "T00:00:00Z"); });
    var bottomAxis = svgGraph.append("g")
        .attr("transform", "translate(0," + plotBottom + ")")
        .call(d3.axisBottom(x).tickValues(tickDates).tickSize(-5).tickPadding(12)
            .tickFormat(function(d, i) { return dateTickLabels[i]; }));
    bottomAxis.select(".domain").remove();
    bottomAxis.selectAll("line").style("stroke", "#333").style("stroke-width", 1.5);
    bottomAxis.selectAll("text").attr("font-family", "Liberation Sans, Arial, sans-serif")
        .attr("font-size", 15.5).attr("fill", "black").attr("dy", "0.71em").attr("y", 10);
    bottomAxis.selectAll(".tick").filter(function(d, i) { return i === 0; })
        .append("text")
        .text(yearLabel)
        .attr("y", 27).attr("dy", "0.71em")
        .attr("font-family", "Liberation Sans, Arial, sans-serif")
        .attr("font-size", 15.5).attr("text-anchor", "middle").attr("fill", "black");

    //frame
    svgGraph.append("line").attr("x1", plotLeft - 1.5).attr("x2", plotRight + 1.5).attr("y1", plotTop).attr("y2", plotTop)
        .style("stroke", "black").style("stroke-width", 2.5);
    svgGraph.append("line").attr("x1", plotLeft - 1.5).attr("x2", plotRight + 1.5).attr("y1", plotBottom).attr("y2", plotBottom)
        .style("stroke", "black").style("stroke-width", 4);
    svgGraph.append("line").attr("x1", plotLeft).attr("x2", plotLeft).attr("y1", plotTop - 1).attr("y2", plotBottom + 2)
        .style("stroke", "black").style("stroke-width", 3);
    svgGraph.append("line").attr("x1", plotRight).attr("x2", plotRight).attr("y1", plotTop - 1).attr("y2", plotBottom + 2)
        .style("stroke", "black").style("stroke-width", 3);

    //legend
    var legend = svgGraph.append("g").attr("id", "legend");
    legend.append("rect")
        .attr("x", 480.5).attr("y", plotTop).attr("width", 238).attr("height", 88)
        .attr("fill", "white").style("stroke", "black").style("stroke-width", 1.3);
    var legendColours = ["black", operColour, meanColour, climoColour];
    var legendWidths = [65, 105, 148, 224];
    legendNames.forEach(function(name, i) {
        legend.append("text")
            .text(name)
            .attr("x", 599.5).attr("y", 127 + i * 21.6)
            .attr("text-anchor", "middle")
            .attr("font-size", 17)
            .attr("textLength", legendWidths[i]).attr("lengthAdjust", "spacingAndGlyphs")
            .attr("fill", legendColours[i]);
    });

    //header texts
    function headerText(str, xPos, yPos, size, width, anchor) {
        return svgGraph.append("text")
            .text(str)
            .attr("x", xPos).attr("y", yPos)
            .attr("font-size", size)
            .attr("text-anchor", anchor)
            .attr("textLength", width).attr("lengthAdjust", "spacingAndGlyphs")
            .attr("fill", "black");
    }
    headerText("Memphis Int'l Airport", 586, 30, 32, 312, "middle");
    headerText("ICAO Code: KMEM", 98, 47, 21, 210, "start");
    headerText("Coordinates: 35.04, -89.98", 98, 73, 21, 287, "start");
    headerText("Tennessee, USA", 98, 100, 21, 184, "start");
    headerText("Model: 00Z 22AUG2026 GEFS", 1101, 71, 21, 335, "end");
    headerText("weathertogether.net", 1101, 97, 24, 255, "end")
        .attr("font-weight", "bold").attr("fill", "#00a0ff");

    //axis titles
    var leftTitle = svgGraph.append("text")
        .attr("transform", "translate(21.5,490) rotate(90)")
        .attr("text-anchor", "middle")
        .attr("font-size", 22)
        .attr("textLength", 465).attr("lengthAdjust", "spacingAndGlyphs")
        .attr("fill", "black");
    leftTitle.append("tspan").text("850 hPa Temperature (red, ");
    leftTitle.append("tspan").text("o").attr("font-size", 12).attr("dy", -8);
    leftTitle.append("tspan").text("C)").attr("dy", 8);

    svgGraph.append("text")
        .text("6-hour Precipitation (green, inches)")
        .attr("transform", "translate(1162,495) rotate(90)")
        .attr("text-anchor", "middle")
        .attr("font-size", 22)
        .attr("textLength", 546).attr("lengthAdjust", "spacingAndGlyphs")
        .attr("fill", "black");
}
renderGraph();
</script>
</body>
</html>
